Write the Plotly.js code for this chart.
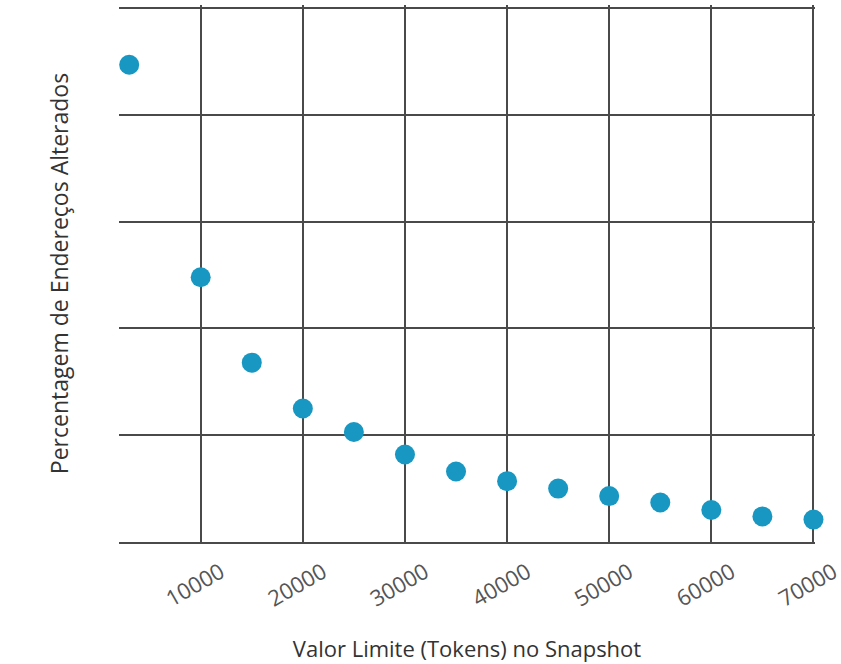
<!DOCTYPE html>
<html>
<head>
<meta charset="utf-8">
<script src="https://cdn.plot.ly/plotly-3.0.1.min.js"></script>
<style>html,body{margin:0;padding:0;background:#fff;}#chart{width:841px;height:664px;}</style>
</head>
<body>
<div id="chart"></div>
<script>
const thresholds = [3000, 10000, 15000, 20000, 25000, 30000, 35000, 40000, 45000, 50000, 55000, 60000, 65000, 70000];
const pctChanged = [44.7, 24.8, 16.8, 12.5, 10.3, 8.2, 6.6, 5.7, 5.0, 4.3, 3.7, 3.0, 2.4, 2.1];
const xTickVals = [10000, 20000, 30000, 40000, 50000, 60000, 70000];
const xTickText = ['10000', '20000', '30000', '40000', '50000', '60000', '70000'];
const yGridVals = [0, 10, 20, 30, 40, 50];

const trace = {
  type: 'scatter',
  mode: 'markers',
  x: thresholds,
  y: pctChanged,
  cliponaxis: false,
  marker: {size: 20, color: '#1797c1', line: {width: 0}},
  hoverinfo: 'x+y'
};

const layout = {
  width: 841, height: 664,
  margin: {l: 119, r: 26, t: 5, b: 122},
  paper_bgcolor: '#ffffff',
  plot_bgcolor: '#ffffff',
  showlegend: false,
  font: {family: '"Open Sans", sans-serif', color: '#333'},
  xaxis: {
    range: [2000, 70150],
    tickmode: 'array',
    tickvals: xTickVals,
    ticktext: xTickText,
    tickangle: -30,
    ticklabelshift: 20,
    ticklabelstandoff: 7,
    ticklabeloverflow: 'allow',
    tickfont: {size: 22, color: '#555', family: '"Open Sans", sans-serif'},
    showgrid: true,
    gridcolor: '#4a4a4a',
    gridwidth: 2,
    showline: true,
    linecolor: '#4a4a4a',
    linewidth: 2,
    ticks: '',
    zeroline: false,
    title: {text: 'Valor Limite (Tokens) no Snapshot', font: {size: 22, color: '#333'}, standoff: 30}
  },
  yaxis: {
    range: [0, 50.3],
    tickmode: 'array',
    tickvals: yGridVals,
    showticklabels: false,
    showgrid: true,
    gridcolor: '#4a4a4a',
    gridwidth: 2,
    showline: false,
    ticks: '',
    zeroline: false,
    title: {text: 'Percentagem de Endereços Alterados', font: {size: 23, color: '#333'}, standoff: 42}
  }
};

Plotly.newPlot('chart', [trace], layout, {displayModeBar: false, staticPlot: true});
</script>
</body>
</html>
